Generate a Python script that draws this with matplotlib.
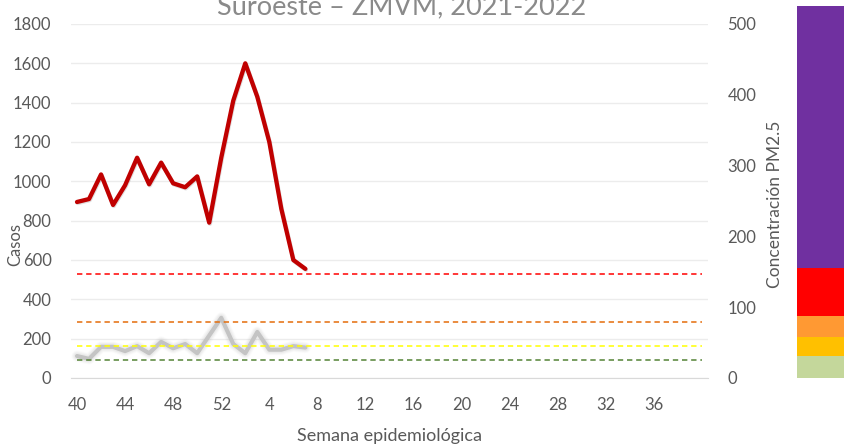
import matplotlib
matplotlib.use("Agg")
import matplotlib.pyplot as plt
import matplotlib.patheffects as pe

# semanas epidemiologicas 40/2021 a 40/2022
semanas = list(range(40, 53)) + list(range(1, 41))
casos = [895, 910, 1035, 880, 980, 1120, 985, 1095, 990, 970, 1025, 790,
         1120, 1410, 1600, 1430, 1200, 860, 600, 555]
pm25 = [31, 27, 44, 44, 38, 45, 35, 51, 42, 48, 35, 60,
        85, 48, 35, 65, 40, 40, 45, 43]

# limites del indice de calidad del aire (PM2.5)
limites = [25, 45, 79, 147]
colores_limite = ['#548235', '#ffff00', '#e46c0a', '#ff0000']

# barra de colores lateral
bandas = [0, 31, 58, 88, 155, 525]
colores_banda = ['#c4d79b', '#ffc000', '#ff9933', '#ff0000', '#7030a0']

gris = '#595959'
plt.rcParams['font.family'] = ['Lato', 'DejaVu Sans']

W, H = 845, 447
fig = plt.figure(figsize=(W / 100, H / 100), dpi=100)
ax = fig.add_axes([71 / W, 1 - 378 / H, (708 - 71) / W, 354 / H])
ax2 = ax.twinx()

x_casos = list(range(len(casos)))
x_pm = list(range(len(pm25)))
x_todo = list(range(len(semanas)))

ax.plot(x_casos, casos, color='#c00000', lw=3.1, solid_joinstyle='round',
        solid_capstyle='round', zorder=3,
        path_effects=[pe.SimpleLineShadow(offset=(0.5, -0.8), alpha=0.12),
                      pe.Normal()])
ax.set_ylim(0, 1800)
ax.set_yticks(range(0, 1801, 200))
ax.set_xlim(-0.5, len(semanas) - 0.5)
ax.set_xticks(x_todo[::4][:13])
ax.set_xticklabels([str(s) for s in semanas[::4][:13]])
ax.grid(axis='y', color='#ececec', lw=1)
ax.set_axisbelow(True)

# linea de PM2.5 con halo difuso
for w, a in [(8, 0.05), (6.5, 0.08), (5, 0.12)]:
    ax2.plot(x_pm, pm25, color='#b0b0b0', lw=w, alpha=a,
             solid_joinstyle='round', solid_capstyle='round')
ax2.plot(x_pm, pm25, color='#c4c4c4', lw=3, solid_joinstyle='round',
         solid_capstyle='round')

for v, c in zip(limites, colores_limite):
    ax2.plot(x_todo, [v] * len(semanas), color=c, lw=1.1,
             dashes=(3.5, 2.5))
ax2.set_ylim(0, 500)
ax2.set_yticks(range(0, 501, 100))

for a in (ax, ax2):
    for s in a.spines.values():
        s.set_visible(False)
    a.tick_params(length=0, colors=gris, labelsize=12)
ax.spines['bottom'].set_visible(True)
ax.spines['bottom'].set_color('#d9d9d9')
ax.tick_params(axis='y', pad=14)
ax.tick_params(axis='x', pad=14)
ax2.tick_params(axis='y', pad=14)

ax.set_xlabel('Semana epidemiológica', color=gris, fontsize=13, va='center')
ax.xaxis.set_label_coords((390 - 71) / 637, -(436 - 378) / 354)
ax.set_ylabel('Casos', color=gris, fontsize=12, va='center')
ax.yaxis.set_label_coords((15 - 71) / 637, (378 - 245) / 354)
ax2.set_ylabel('Concentración PM2.5', color=gris, fontsize=12.5,
               va='center')
ax2.yaxis.set_label_coords(1 + (775 - 708) / 637, (378 - 204) / 354)

fig.text(402 / W, 1 - 14 / H, 'Suroeste – ZMVM, 2021-2022', ha='center',
         va='baseline', color='#8a8a8a', fontsize=19.5)

# barra de categorias de calidad del aire
axb = fig.add_axes([797 / W, 1 - 378 / H, 48 / W, 354 / H])
for lo, hi, c in zip(bandas[:-1], bandas[1:], colores_banda):
    axb.bar(0, hi - lo, bottom=lo, width=1, color=c, align='edge')
axb.set_xlim(0, 1)
axb.set_ylim(0, 500)
for p in axb.patches:
    p.set_clip_on(False)
axb.axis('off')

fig.savefig('out.png', dpi=100)
